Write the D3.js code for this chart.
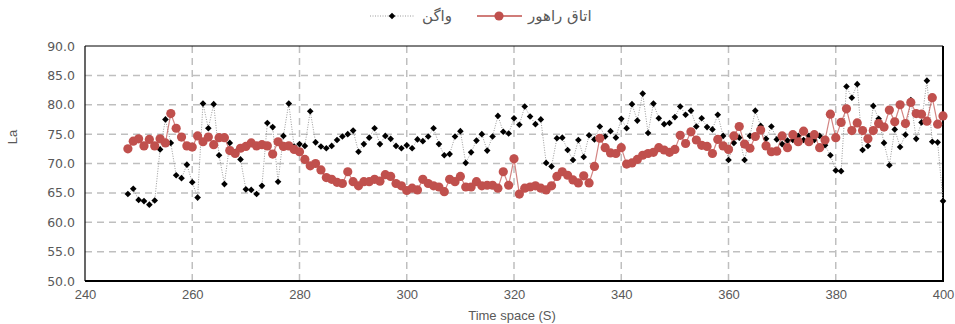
<!DOCTYPE html>
<html>
<head>
<meta charset="utf-8">
<script src="https://cdn.jsdelivr.net/npm/d3@7"></script>
<style>
  body { margin: 0; background: #fff; }
  svg { display: block; }
</style>
</head>
<body>
<svg id="chart" width="955" height="324"></svg>
<script>
// time (s) of each sample
const times = [
  248, 249, 250, 251, 252, 253, 254, 255, 256, 257,
  258, 259, 260, 261, 262, 263, 264, 265, 266, 267,
  268, 269, 270, 271, 272, 273, 274, 275, 276, 277,
  278, 279, 280, 281, 282, 283, 284, 285, 286, 287,
  288, 289, 290, 291, 292, 293, 294, 295, 296, 297,
  298, 299, 300, 301, 302, 303, 304, 305, 306, 307,
  308, 309, 310, 311, 312, 313, 314, 315, 316, 317,
  318, 319, 320, 321, 322, 323, 324, 325, 326, 327,
  328, 329, 330, 331, 332, 333, 334, 335, 336, 337,
  338, 339, 340, 341, 342, 343, 344, 345, 346, 347,
  348, 349, 350, 351, 352, 353, 354, 355, 356, 357,
  358, 359, 360, 361, 362, 363, 364, 365, 366, 367,
  368, 369, 370, 371, 372, 373, 374, 375, 376, 377,
  378, 379, 380, 381, 382, 383, 384, 385, 386, 387,
  388, 389, 390, 391, 392, 393, 394, 395, 396, 397,
  398, 399, 400
];

// "واگن" series (black diamonds)
const wagon = [
  64.8, 65.7, 63.8, 63.6, 63.0, 63.7, 72.4, 77.5, 73.5, 68.0,
  67.5, 69.8, 66.8, 64.2, 80.2, 76.0, 80.1, 71.4, 66.5, 73.5,
  72.0, 70.7, 65.6, 65.5, 64.8, 66.2, 76.9, 76.2, 66.9, 74.7,
  80.2, 72.9, 73.3, 73.0, 78.9, 73.6, 72.9, 72.6, 73.0, 74.0,
  74.6, 75.0, 75.6, 72.0, 73.3, 74.4, 76.0, 73.3, 74.7, 74.2,
  73.0, 72.6, 73.1, 72.6, 74.1, 73.8, 74.6, 76.0, 73.3, 71.4,
  71.6, 74.6, 75.5, 70.1, 71.9, 73.9, 75.0, 72.2, 74.6, 78.1,
  75.4, 75.1, 77.7, 76.6, 79.7, 78.0, 76.7, 77.5, 70.1, 69.5,
  74.3, 74.4, 72.3, 70.6, 74.0, 71.1, 74.8, 74.1, 76.3, 74.6,
  75.5, 74.4, 77.6, 76.0, 80.1, 77.3, 81.9, 75.2, 80.2, 77.7,
  76.7, 76.9, 77.9, 79.7, 78.3, 79.0, 76.3, 77.7, 76.2, 75.8,
  78.3, 74.7, 70.6, 73.5, 74.4, 70.6, 74.7, 79.0, 76.4, 74.2,
  76.3, 74.1, 73.3, 73.9, 74.0, 74.7, 74.0, 74.7, 74.0, 74.7,
  73.1, 71.4, 68.8, 68.7, 83.1, 81.2, 83.5, 72.3, 73.0, 79.8,
  77.6, 73.5, 69.7, 75.8, 72.8, 74.9, 80.8, 74.2, 77.0, 84.1,
  73.7, 73.6, 63.6
];

// "اتاق راهور" series (red circles)
const room = [
  72.5, 73.8, 74.2, 73.0, 74.1, 73.0, 74.2, 73.5, 78.5, 76.0,
  74.5, 73.0, 72.8, 74.7, 73.7, 74.5, 73.2, 74.4, 74.4, 72.2,
  71.7, 72.6, 72.9, 73.5, 73.0, 73.2, 73.0, 71.6, 73.7, 72.9,
  73.0, 72.4, 72.0, 70.7, 69.6, 70.0, 68.9, 67.6, 67.3, 66.8,
  66.6, 68.6, 66.9, 66.2, 66.9, 66.9, 67.3, 67.0, 68.1, 67.8,
  66.6, 66.2, 65.4, 65.8, 65.5, 67.3, 66.6, 66.2, 66.0, 65.2,
  67.3, 66.9, 67.8, 66.0, 66.0, 66.9, 66.2, 66.3, 66.3, 65.8,
  68.6, 66.3, 70.8, 64.8, 65.8, 66.0, 66.2, 65.8, 65.5, 66.2,
  67.8, 68.6, 68.0, 67.2, 66.7, 67.9, 66.7, 69.5, 74.3, 72.7,
  71.8, 71.7, 72.7, 69.9, 70.1, 70.7, 71.4, 71.7, 71.9, 72.7,
  72.3, 71.9, 72.4, 74.8, 73.4, 75.4, 74.0, 73.1, 72.9, 71.7,
  74.1, 73.0, 72.4, 74.7, 76.3, 73.3, 72.6, 74.6, 75.7, 73.0,
  72.0, 72.1, 74.7, 72.7, 74.9, 73.7, 75.5, 73.7, 74.9, 72.7,
  74.0, 78.4, 74.4, 77.0, 79.3, 75.6, 76.9, 75.6, 74.2, 75.6,
  76.8, 76.2, 79.1, 77.1, 80.0, 76.8, 80.4, 78.5, 78.4, 77.2,
  81.2, 76.7, 78.1
];

const xTicks = [240, 260, 280, 300, 320, 340, 360, 380, 400];
const yTicks = [50, 55, 60, 65, 70, 75, 80, 85, 90];
const seriesNames = ["واگن", "اتاق راهور"];

const red = "#c0504d";
const grid = "#bfbfbf";
const textCol = "#595959";

const svg = d3.select("#chart");
const plotL = 85, plotR = 943, plotT = 46, plotB = 281;

const x = d3.scaleLinear().domain([240, 400]).range([plotL, plotR]);
const y = d3.scaleLinear().domain([50, 90]).range([plotB, plotT]);

// gridlines
svg.append("g")
  .selectAll("line")
  .data(yTicks.filter(d => d > 50 && d < 90))
  .enter().append("line")
    .attr("x1", plotL).attr("x2", plotR)
    .attr("y1", d => y(d)).attr("y2", d => y(d))
    .attr("stroke", grid).attr("stroke-width", 1.5)
    .attr("stroke-dasharray", "7,5");

svg.append("g")
  .selectAll("line")
  .data(xTicks.filter(d => d > 240 && d < 400))
  .enter().append("line")
    .attr("x1", d => x(d)).attr("x2", d => x(d))
    .attr("y1", plotT).attr("y2", plotB)
    .attr("stroke", grid).attr("stroke-width", 1.5)
    .attr("stroke-dasharray", "7,5");

// axes (labels only, frame drawn separately)
const yAxis = svg.append("g")
  .attr("transform", `translate(${plotL},0)`)
  .call(d3.axisLeft(y).tickValues(yTicks).tickFormat(d3.format(".1f")).tickSize(0).tickPadding(10));
yAxis.select(".domain").remove();
yAxis.selectAll("text")
  .attr("fill", textCol)
  .style("font-family", "DejaVu Sans")
  .style("font-size", "12.5px");

const xAxis = svg.append("g")
  .attr("transform", `translate(0,${plotB})`)
  .call(d3.axisBottom(x).tickValues(xTicks).tickFormat(d3.format("d")).tickSize(0).tickPadding(9));
xAxis.select(".domain").remove();
xAxis.selectAll("text")
  .attr("fill", textCol)
  .style("font-family", "Liberation Sans")
  .style("font-size", "13px");

// frame
svg.append("line").attr("x1", plotL).attr("x2", plotR).attr("y1", plotT).attr("y2", plotT)
  .attr("stroke", "#000").attr("stroke-width", 1);
svg.append("line").attr("x1", plotL).attr("x2", plotL).attr("y1", plotT).attr("y2", plotB)
  .attr("stroke", "#000").attr("stroke-width", 1.2);
svg.append("line").attr("x1", plotL).attr("x2", plotR + 1).attr("y1", plotB).attr("y2", plotB)
  .attr("stroke", "#000").attr("stroke-width", 2);
svg.append("line").attr("x1", plotR).attr("x2", plotR).attr("y1", plotT).attr("y2", plotB)
  .attr("stroke", "#000").attr("stroke-width", 2);

// square turned 45 degrees, like the spreadsheet diamond marker
const diamond = d3.symbol().type(d3.symbolSquare).size(22);

const line = d3.line().x(d => x(d[0])).y(d => y(d[1]));
const wagonPts = times.map((t, i) => [t, wagon[i]]);
const roomPts = times.map((t, i) => [t, room[i]]);

// black series
svg.append("path")
  .datum(wagonPts)
  .attr("d", line)
  .attr("fill", "none")
  .attr("stroke", "#9a9a9a")
  .attr("stroke-width", 1)
  .attr("stroke-dasharray", "1,1.5");

svg.append("g")
  .selectAll("path")
  .data(wagonPts)
  .enter().append("path")
    .attr("d", diamond)
    .attr("transform", d => `translate(${x(d[0])},${y(d[1])}) rotate(45)`)
    .attr("fill", "#000");

// red series
svg.append("path")
  .datum(roomPts)
  .attr("d", line)
  .attr("fill", "none")
  .attr("stroke", red)
  .attr("stroke-opacity", 0.7)
  .attr("stroke-width", 1.2);

svg.append("g")
  .selectAll("circle")
  .data(roomPts)
  .enter().append("circle")
    .attr("cx", d => x(d[0]))
    .attr("cy", d => y(d[1]))
    .attr("r", 4.6)
    .attr("fill", red);

// legend
const lg = svg.append("g");
lg.append("line").attr("x1", 370).attr("x2", 415).attr("y1", 16).attr("y2", 16)
  .attr("stroke", "#9a9a9a").attr("stroke-width", 1).attr("stroke-dasharray", "1,1.5");
lg.append("path").attr("d", diamond).attr("transform", "translate(392,16) rotate(45)").attr("fill", "#000");
lg.append("text").attr("x", 422).attr("y", 21).text(seriesNames[0])
  .attr("fill", textCol).style("font-family", "DejaVu Sans").style("font-size", "15px");

lg.append("line").attr("x1", 477).attr("x2", 522).attr("y1", 16).attr("y2", 16)
  .attr("stroke", red).attr("stroke-width", 1.5);
lg.append("circle").attr("cx", 499).attr("cy", 16).attr("r", 4.6).attr("fill", red);
lg.append("text").attr("x", 528).attr("y", 21).text(seriesNames[1])
  .attr("fill", textCol).style("font-family", "DejaVu Sans").style("font-size", "15px");

// axis titles
svg.append("text")
  .attr("transform", "translate(17,137) rotate(-90)")
  .attr("text-anchor", "middle")
  .attr("fill", textCol)
  .style("font-family", "Liberation Sans")
  .style("font-size", "13px")
  .text("La");

svg.append("text")
  .attr("x", 512).attr("y", 320)
  .attr("text-anchor", "middle")
  .attr("fill", textCol)
  .style("font-family", "Liberation Sans")
  .style("font-size", "13px")
  .text("Time space (S)");
</script>
</body>
</html>
